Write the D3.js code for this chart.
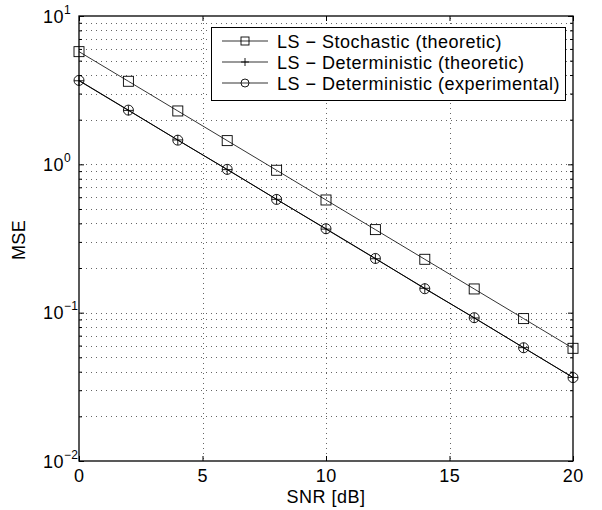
<!DOCTYPE html>
<html>
<head>
<meta charset="utf-8">
<script src="https://cdn.jsdelivr.net/npm/d3@7"></script>
<style>
  body { margin: 0; background: #fff; }
  svg { font-family: "Liberation Sans", Arial, sans-serif; }
</style>
</head>
<body>
<svg id="plot" width="602" height="510"></svg>
<script>
// SNR points in dB
var snr = [0, 2, 4, 6, 8, 10, 12, 14, 16, 18, 20];
// MSE values
var stochTheo = [5.75, 3.63, 2.29, 1.445, 0.912, 0.575, 0.363, 0.229, 0.1445, 0.0912, 0.0575];
var detTheo   = [3.66, 2.31, 1.46, 0.921, 0.581, 0.366, 0.231, 0.146, 0.0921, 0.0581, 0.0366];
var detExp    = [3.68, 2.32, 1.455, 0.925, 0.58, 0.368, 0.232, 0.145, 0.0925, 0.058, 0.0365];
var xTicks = [0, 5, 10, 15, 20];
var yDecades = [-2, -1, 0, 1];
var legendLabels = ["LS \u2212 Stochastic (theoretic)", "LS \u2212 Deterministic (theoretic)", "LS \u2212 Deterministic (experimental)"];

var svg = d3.select("#plot");
var pL = 79, pR = 573, pT = 16, pB = 461;

var xScale = d3.scaleLinear().domain([0, 20]).range([pL, pR]);
var yScale = d3.scaleLog().domain([0.01, 10]).range([pB, pT]);

// minor ticks 2..9 in each decade
var minor = [];
yDecades.slice(0, 3).forEach(function(e){
    for (var k = 2; k <= 9; k++) minor.push(k * Math.pow(10, e));
});
var majorY = yDecades.map(function(e){ return Math.pow(10, e); });

var grid = svg.append("g")
    .attr("stroke", "#000")
    .attr("stroke-width", 1)
    .attr("stroke-dasharray", "1,4")
    .attr("stroke-opacity", 0.6)
    .attr("shape-rendering", "crispEdges");

grid.selectAll("line.h")
    .data(minor.concat(majorY.slice(1, 3)))
    .enter().append("line")
    .attr("x1", pL + 2).attr("x2", pR)
    .attr("y1", function(d){ return Math.round(yScale(d)) + 0.5; })
    .attr("y2", function(d){ return Math.round(yScale(d)) + 0.5; });

grid.selectAll("line.v")
    .data(xTicks.slice(1, 4))
    .enter().append("line")
    .attr("y1", pT + 2).attr("y2", pB)
    .attr("x1", function(d){ return Math.round(xScale(d)) + 0.5; })
    .attr("x2", function(d){ return Math.round(xScale(d)) + 0.5; });

// inside ticks on all four sides
function tickAxis(gen, tr, size){
    var g = svg.append("g").attr("transform", tr).call(gen.tickSize(size).tickFormat(""));
    g.select(".domain").remove();
    g.selectAll("line").attr("stroke", "#000");
    return g;
}
tickAxis(d3.axisBottom(xScale).tickValues(xTicks), "translate(0," + pB + ")", -5);
tickAxis(d3.axisTop(xScale).tickValues(xTicks), "translate(0," + pT + ")", -5);
tickAxis(d3.axisLeft(yScale).tickValues(majorY), "translate(" + pL + ",0)", -5);
tickAxis(d3.axisRight(yScale).tickValues(majorY), "translate(" + pR + ",0)", -5);
tickAxis(d3.axisLeft(yScale).tickValues(minor), "translate(" + pL + ",0)", -3);
tickAxis(d3.axisRight(yScale).tickValues(minor), "translate(" + pR + ",0)", -3);

// frame
svg.append("rect")
    .attr("x", pL).attr("y", pT)
    .attr("width", pR - pL).attr("height", pB - pT)
    .attr("fill", "none").attr("stroke", "#000").attr("stroke-width", 1.3);

// tick labels
svg.append("g").selectAll("text")
    .data(xTicks).enter().append("text")
    .attr("x", function(d){ return xScale(d) + 0.3; })
    .attr("y", pB + 21)
    .attr("text-anchor", "middle")
    .attr("font-size", 18)
    .attr("letter-spacing", 0.5)
    .text(function(d){ return d; });

var yl = svg.append("g").selectAll("text")
    .data(yDecades).enter().append("text")
    .attr("x", 43)
    .attr("y", function(d){ return yScale(Math.pow(10, d)) + 6.5; })
    .attr("font-size", 18)
    .attr("letter-spacing", 0.5);
yl.append("tspan").text("10");
yl.append("tspan")
    .attr("font-size", 12)
    .attr("letter-spacing", 0.3)
    .attr("dy", -9)
    .text(function(d){ return d < 0 ? "\u2212" + (-d) : d; });

// axis titles
svg.append("text")
    .attr("x", (pL + pR) / 2)
    .attr("y", 503)
    .attr("text-anchor", "middle")
    .attr("font-size", 18)
    .attr("letter-spacing", 0.5)
    .text("SNR [dB]");

svg.append("text")
    .attr("transform", "translate(25,240) rotate(-90)")
    .attr("text-anchor", "middle")
    .attr("font-size", 18)
    .attr("letter-spacing", 0.4)
    .text("MSE");

// series
var series = [
    {vals: stochTheo, marker: "square", width: 0.8},
    {vals: detTheo, marker: "plus", width: 0.9},
    {vals: detExp, marker: "circle", width: 0.9}
];

var line = d3.line()
    .x(function(d){ return xScale(d[0]); })
    .y(function(d){ return yScale(d[1]); });

function drawMarker(g, type, x, y, s){
    if (type === "square") {
        g.append("rect").attr("x", x - s / 2).attr("y", y - s / 2)
            .attr("width", s).attr("height", s)
            .attr("fill", "none").attr("stroke", "#000").attr("stroke-width", 0.9);
    } else if (type === "circle") {
        g.append("circle").attr("cx", x).attr("cy", y).attr("r", s / 2)
            .attr("fill", "none").attr("stroke", "#000").attr("stroke-width", 0.9);
    } else {
        g.append("path")
            .attr("d", "M" + (x - s / 2) + "," + y + "H" + (x + s / 2) + "M" + x + "," + (y - s / 2) + "V" + (y + s / 2))
            .attr("stroke", "#000").attr("stroke-width", 0.9);
    }
}

var plot = svg.append("g");
series.forEach(function(s){
    var pts = d3.zip(snr, s.vals);
    plot.append("path")
        .datum(pts)
        .attr("fill", "none")
        .attr("stroke", "#000")
        .attr("stroke-width", s.width)
        .attr("d", line);
    pts.forEach(function(p){
        drawMarker(plot, s.marker, xScale(p[0]), yScale(p[1]), 10);
    });
});

// legend
var lg = svg.append("g");
lg.append("rect")
    .attr("x", 211.5).attr("y", 27.5)
    .attr("width", 354).attr("height", 73)
    .attr("fill", "#fff").attr("stroke", "#000").attr("stroke-width", 1);

legendLabels.forEach(function(lab, i){
    var yy = 41 + i * 21;
    lg.append("line")
        .attr("x1", 222).attr("x2", 268)
        .attr("y1", yy).attr("y2", yy)
        .attr("stroke", "#777").attr("stroke-width", 1.5);
    drawMarker(lg, series[i].marker, 245, yy, 8);
    lg.append("text")
        .attr("x", 277).attr("y", yy + 6.5)
        .attr("font-size", 18)
        .attr("letter-spacing", 0.5)
        .text(lab);
});
</script>
</body>
</html>
